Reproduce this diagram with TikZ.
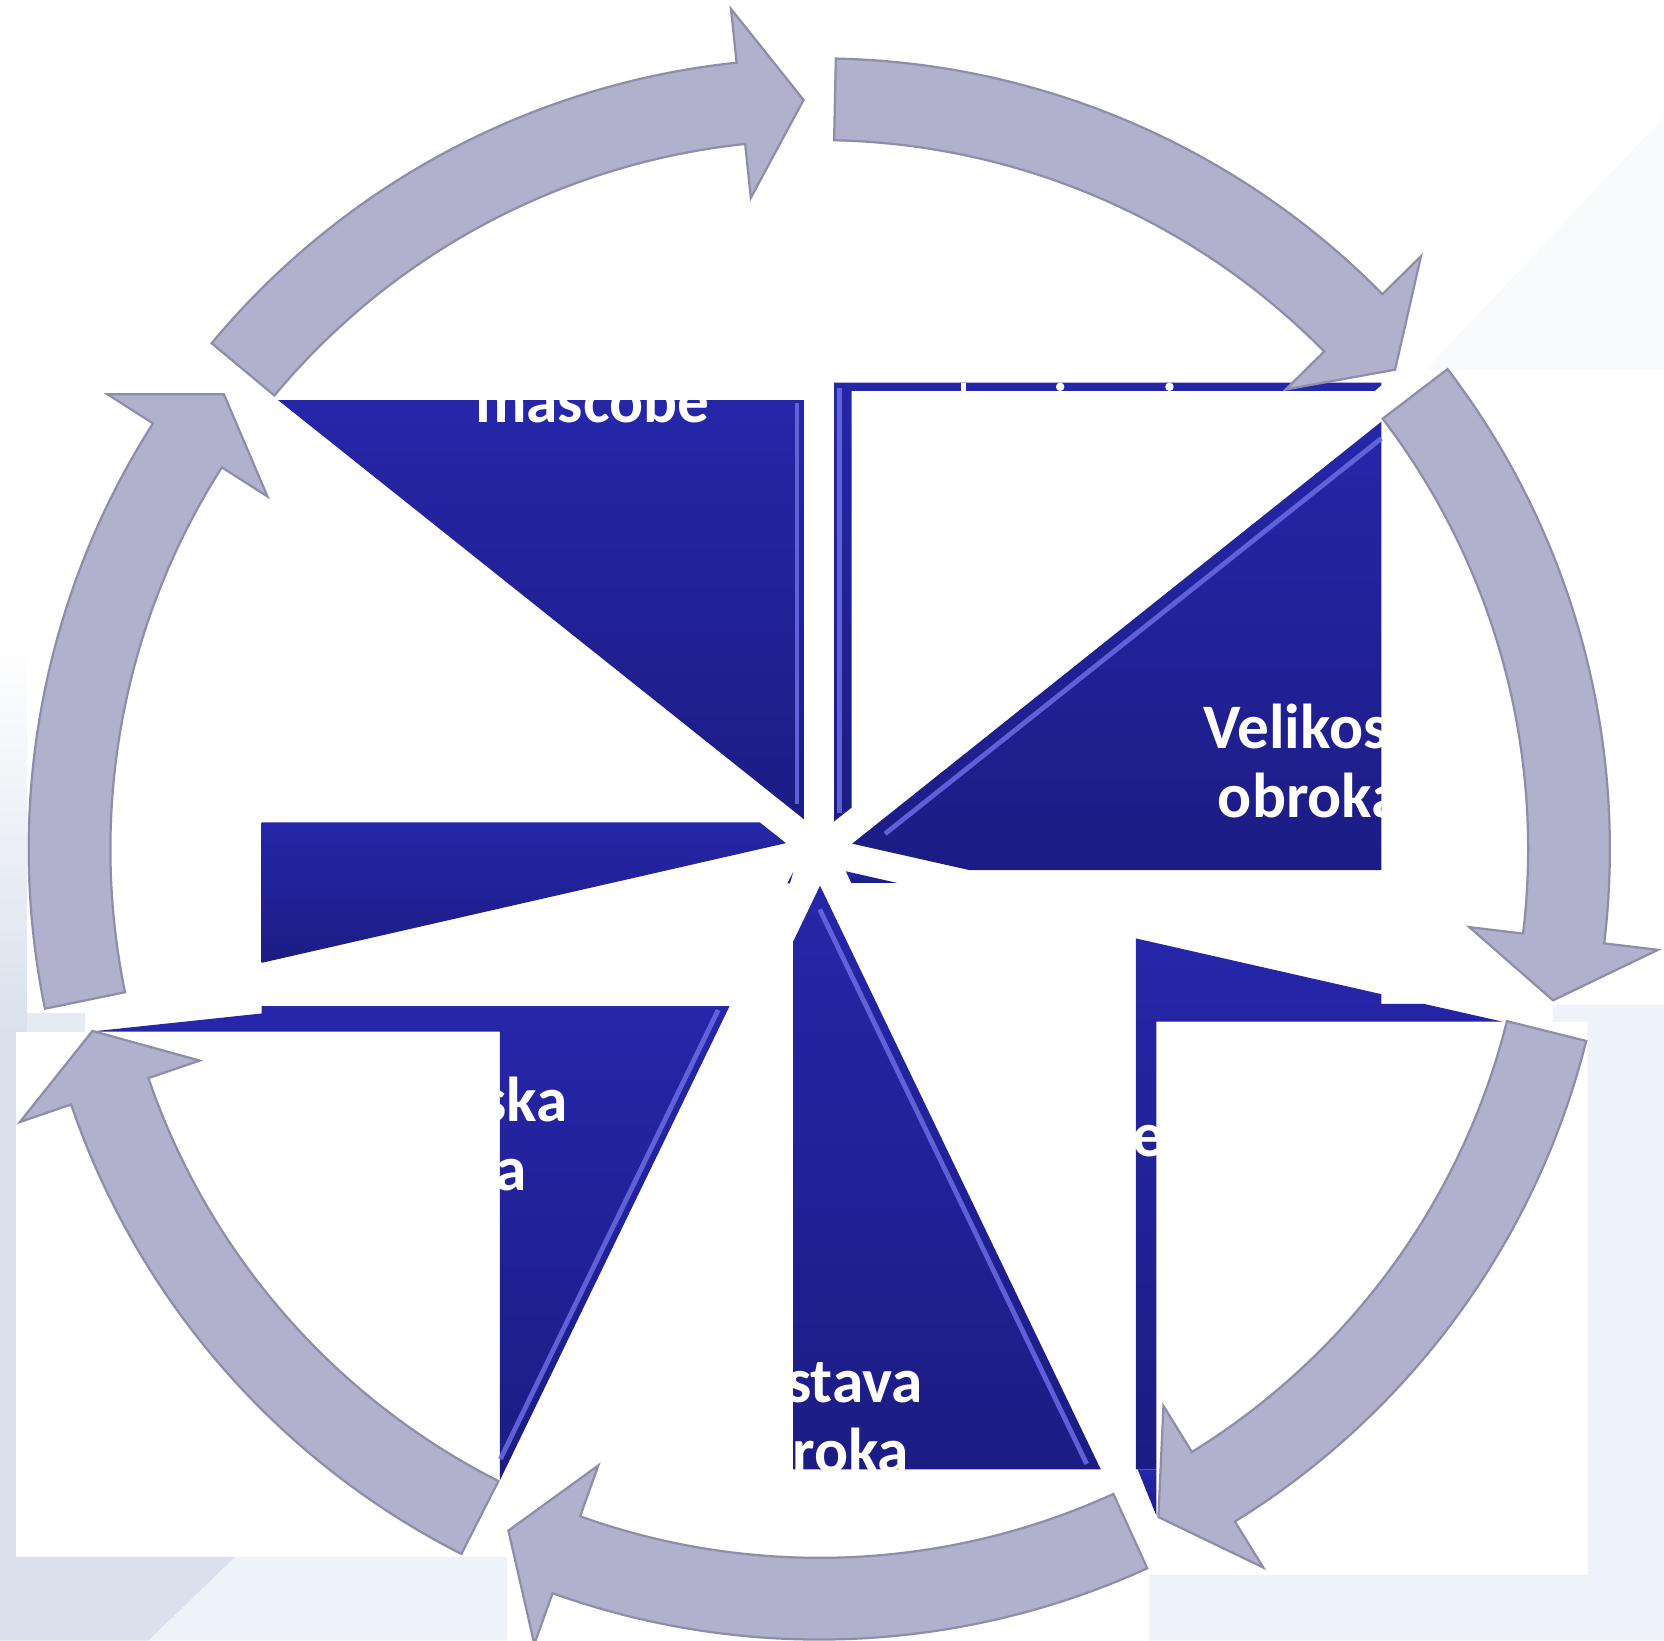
\documentclass[tikz,border=0pt]{standalone}
\usepackage{fontspec}
\setmainfont{Carlito}
\usepackage{tikz}
\usepackage{xcolor}
\definecolor{ringfill}{HTML}{B1B1CE}
\definecolor{ringedge}{HTML}{8E8EAA}
\definecolor{wedgetop}{HTML}{2626A9}
\definecolor{wedgebot}{HTML}{1C1C84}
\definecolor{bevelblue}{HTML}{6C6CE4}
\definecolor{leftbg}{HTML}{DAE1ED}
\definecolor{lightbg}{HTML}{EEF2F9}
\definecolor{faintbg}{HTML}{F9FAFC}
\tikzset{
  ringarrow/.style={fill=ringfill,draw=ringedge,line width=0.6pt,line join=miter},
  wedge/.style={top color=wedgetop,bottom color=wedgebot,draw=none},
  bevel/.style={draw=bevelblue,line width=1.3pt,opacity=0.85},
  seglabel/.style={text=white,font=\fontsize{17}{19}\selectfont\bfseries,
                   inner sep=0pt,anchor=base west},
  crumb/.style={fill=white,draw=none}
}

\begin{document}
\begin{tikzpicture}[x=0.1mm,y=-0.1mm]
    \useasboundingbox (0,0) rectangle (1568,1546);
    % background
    \fill[white] (0,0) rectangle (1568,1546);
    \fill[faintbg] (1344,348) -- (1568,110) -- (1568,348) -- cycle;
    \shade[top color=white,bottom color=leftbg] (0,600) rectangle (25,972);
    \fill[leftbg!70!white] (25,955) rectangle (80,972);
    \fill[leftbg] (0,972) rectangle (15,1467);
    \fill[leftbg] (0,1467) -- (222,1467) -- (140,1546) -- (0,1546) -- cycle;
    \fill[lightbg] (222,1467) -- (478,1467) -- (478,1546) -- (140,1546) -- cycle;
    \fill[lightbg] (1083,1484) -- (1496,1484) -- (1496,962.6) -- (1463,962.6)
      -- (1463,947) -- (1568,947) -- (1568,1546) -- (1083,1546) -- cycle;

    % pinwheel wedges
    \path[wedge] (262,377) -- (757.6,377) -- (757.6,772) -- cycle;
    \path[wedge] (786,360.6) -- (1301.6,360.6) -- (1301.6,363) -- (1295.5,368.4)
      -- (802.5,368.4) -- (802.5,761) -- (786,774) -- cycle;
    \path[wedge] (803,795) -- (1301.6,397.4) -- (1301.6,820) -- (914,820) -- cycle;
    \path[wedge] (1070.4,884.3) -- (1301.6,936.8) -- (1301.6,946) -- (1342,946)
      -- (1415.4,962.6) -- (1089.6,962.6) -- (1089.6,1384.6) -- (1070.4,1384.6) -- cycle;
    \path[wedge] (797,821) -- (845.5,832) -- (802.3,832) -- cycle;
    \path[wedge] (1072,1384.6) -- (1089.6,1384.6) -- (1089.6,1428) -- cycle;
    \path[wedge] (772.7,834.6) -- (1037.3,1384.6) -- (747.6,1384.6) -- (747.6,886.9) -- cycle;
    \path[wedge] (86.5,972) -- (246.6,955) -- (246.6,948) -- (687.5,948)
      -- (471,1395) -- (471,972) -- cycle;
    \path[wedge] (747.6,821.4) -- (744.4,832.4) -- (741.9,832.4) -- cycle;
    \path[wedge] (246.6,775) -- (716,775) -- (740.6,794.5) -- (246.6,907.3) -- cycle;

    % bevel highlights
    \draw[bevel] (751,380) -- (751,758);
    \draw[bevel] (791,366) -- (791,766);
    \draw[bevel] (834,785.7) -- (1301.6,413.2);
    \draw[bevel] (772.4,856.9) -- (1024,1379.5);
    \draw[bevel] (676.8,951.7) -- (471.5,1375);

    % text remnants
    \fill[crumb] (906,361) rectangle (910,368.4);
    \fill[crumb] (999,364.5) circle[radius=4];
    \fill[crumb] (1102,364.5) circle[radius=4];
    \node[seglabel] (fat) at (447,398) {mascobe};
    \node[seglabel] (size1) at (1133,705) {Velikos};
    \node[seglabel] (size2) at (1147,770) {obroka};
    \node[seglabel] (left1) at (453,1057) {ska};
    \node[seglabel] (left2) at (466,1122) {a};
    \node[seglabel] (low1) at (740,1322) {stava};
    \node[seglabel] (low2) at (746,1388) {roka};
    \node[seglabel] (right1) at (1066,1090) {e};

    % cycle arrows
    \begin{scope}[shift={(772,800)},yscale=-1]
      \foreach \k in {0,...,6}{
        \pgfmathsetmacro{\ta}{90-\k*360/7-1.2}
        \pgfmathsetmacro{\tb}{90-(\k+1)*360/7+1.2}
        \pgfmathsetmacro{\hb}{\tb+4.8}
        \draw[ringarrow] (\ta:745) arc[start angle=\ta,end angle=\hb,radius=745]
          -- (\hb:796) -- (\tb:706) -- (\hb:617) -- (\hb:668)
          arc[start angle=\hb,end angle=\ta,radius=668] -- cycle;
      }
    \end{scope}
  \end{tikzpicture}
\end{document}
